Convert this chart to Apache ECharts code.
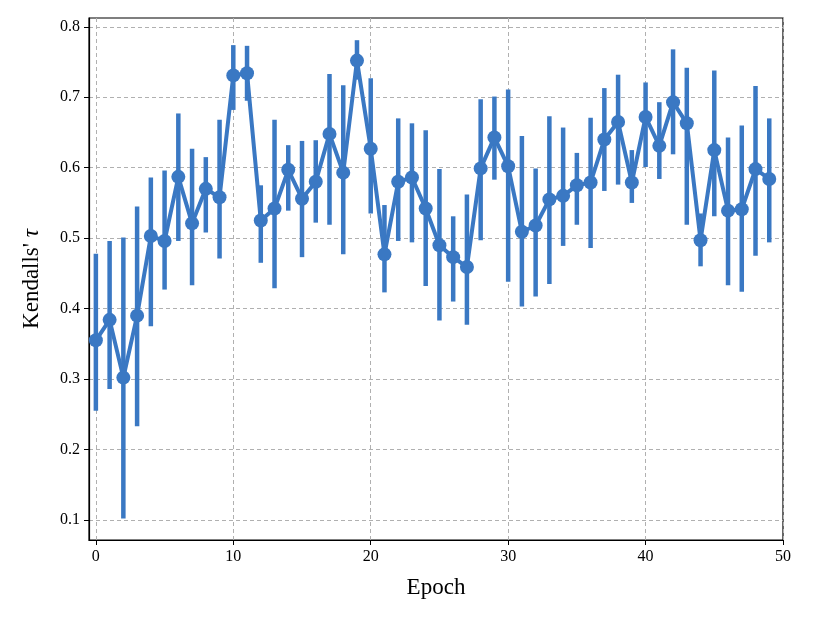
<!DOCTYPE html>
<html><head><meta charset="utf-8">
<script src="https://cdn.jsdelivr.net/npm/echarts@6/dist/echarts.min.js"></script>
<style>html,body{margin:0;padding:0;background:#fff}#c{width:830px;height:623px}</style>
</head><body><div id="c"></div>
<script>
const epochs = [0,1,2,3,4,5,6,7,8,9,10,11,12,13,14,15,16,17,18,19,20,21,22,23,24,25,26,27,28,29,30,31,32,33,34,35,36,37,38,39,40,41,42,43,44,45,46,47,48,49];
const tauMean = [0.355,0.384,0.302,0.390,0.503,0.496,0.587,0.521,0.570,0.558,0.731,0.734,0.525,0.542,0.597,0.556,0.580,0.648,0.593,0.752,0.627,0.477,0.580,0.586,0.542,0.490,0.473,0.459,0.599,0.643,0.602,0.509,0.518,0.555,0.560,0.575,0.579,0.640,0.665,0.579,0.672,0.631,0.693,0.663,0.497,0.625,0.539,0.541,0.598,0.584];
const tauHigh = [0.478,0.496,0.501,0.545,0.586,0.596,0.677,0.627,0.615,0.668,0.774,0.773,0.575,0.668,0.632,0.638,0.639,0.733,0.717,0.781,0.727,0.547,0.670,0.663,0.653,0.598,0.531,0.562,0.697,0.701,0.711,0.645,0.599,0.673,0.657,0.621,0.671,0.713,0.732,0.625,0.721,0.693,0.768,0.742,0.535,0.738,0.643,0.660,0.716,0.670];
const tauLow = [0.255,0.286,0.102,0.233,0.375,0.427,0.496,0.433,0.508,0.471,0.682,0.695,0.465,0.429,0.539,0.473,0.522,0.519,0.477,0.725,0.535,0.423,0.496,0.494,0.432,0.383,0.410,0.377,0.497,0.583,0.438,0.403,0.417,0.435,0.489,0.519,0.486,0.567,0.576,0.550,0.601,0.584,0.619,0.519,0.460,0.531,0.433,0.424,0.475,0.494];
const xTicks = [0,10,20,30,40,50];
const yTicks = [0.1,0.2,0.3,0.4,0.5,0.6,0.7,0.8];

const color = '#3a78c3';
const font = '"Liberation Serif", "DejaVu Serif", serif';
const chart = echarts.init(document.getElementById('c'));
chart.setOption({
  animation: false,
  grid: {left: 89, right: 47, top: 18, bottom: 83, show: true, borderColor: '#000', borderWidth: 1.2, backgroundColor: 'transparent'},
  xAxis: {
    type: 'value', min: -0.5, max: 50,
    name: 'Epoch', nameLocation: 'middle', nameGap: 36,
    nameTextStyle: {fontFamily: font, fontSize: 23, color: '#000'},
    axisLine: {show: true, onZero: false, lineStyle: {color: '#000', width: 1.2}},
    axisTick: {show: true, customValues: xTicks, length: 5, lineStyle: {color: '#000'}},
    axisLabel: {customValues: xTicks, fontFamily: font, fontSize: 16, color: '#000', margin: 9},
    splitLine: {show: true, lineStyle: {type: [4, 3], color: '#b0b0b0', width: 1}}
  },
  yAxis: {
    type: 'value', min: 0.0715, max: 0.8125,
    name: "{n|Kendalls' }{t|τ}", nameLocation: 'middle', nameGap: 46, nameRotate: 90,
    nameTextStyle: {rich: {n: {fontFamily: font, fontSize: 23, color: '#000'}, t: {fontFamily: font, fontSize: 23, fontStyle: 'italic', color: '#000'}}},
    axisLine: {show: true, onZero: false, lineStyle: {color: '#000', width: 1.2}},
    axisTick: {show: true, customValues: yTicks, length: 5, lineStyle: {color: '#000'}},
    axisLabel: {customValues: yTicks, fontFamily: font, fontSize: 16, color: '#000', margin: 9, formatter: v => v.toFixed(1)},
    splitLine: {show: true, lineStyle: {type: [4, 3], color: '#b0b0b0', width: 1}}
  },
  series: [
    {
      type: 'custom', z: 2,
      data: epochs.map((e, i) => [e, tauLow[i], tauHigh[i]]),
      encode: {x: 0, y: [1, 2]},
      renderItem: function (params, api) {
        const p1 = api.coord([api.value(0), api.value(1)]);
        const p2 = api.coord([api.value(0), api.value(2)]);
        return {type: 'line', shape: {x1: p1[0], y1: p1[1], x2: p2[0], y2: p2[1]}, style: {stroke: color, lineWidth: 4.5}};
      }
    },
    {
      type: 'line', z: 3,
      data: epochs.map((e, i) => [e, tauMean[i]]),
      symbol: 'circle', symbolSize: 14,
      lineStyle: {color: color, width: 4},
      itemStyle: {color: color}
    }
  ]
});
</script></body></html>
